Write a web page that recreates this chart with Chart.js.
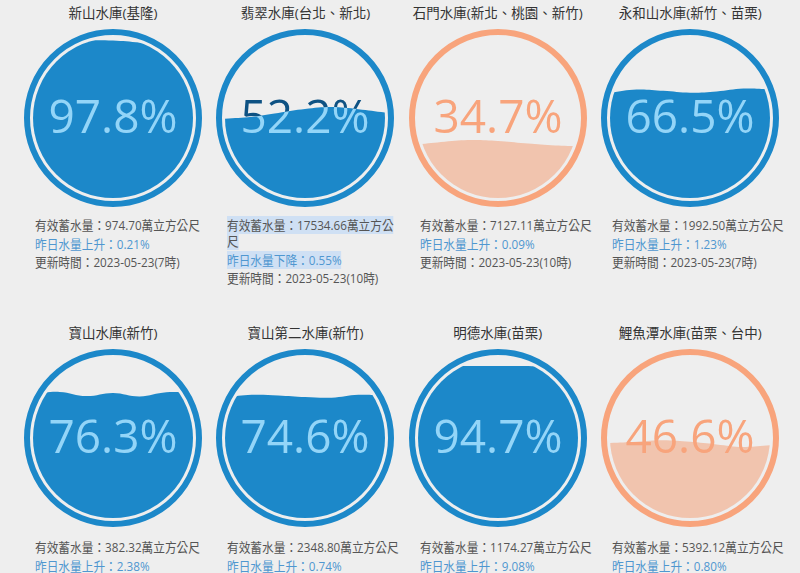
<!DOCTYPE html>
<html>
<head>
<meta charset="utf-8">
<script src="https://cdn.jsdelivr.net/npm/chart.js@4/dist/chart.umd.min.js"></script>
<style>
  html, body { margin: 0; padding: 0; }
  body {
    width: 800px; height: 573px; overflow: hidden; position: relative;
    background: #eeeeee;
    font-family: "Open Sans", "Noto Sans CJK TC", sans-serif;
  }
  .title {
    position: absolute; width: 192px; text-align: center;
    font-size: 13.5px; line-height: 18px; color: #333;
  }
  .gauge { position: absolute; width: 180px; height: 180px; }
  .info { position: absolute; font-size: 13px; color: #555; transform-origin: 0 0; }
  .info div { line-height: 16px; margin-bottom: 2.5px; }
  .info .chg { color: #4f97d0; }
  .sel { background: #cfe0f4; }
  .measure { position: absolute; left: -999px; top: 0; white-space: nowrap; font-size: 13px; }
</style>
</head>
<body>
<script>
const NAMES = ['新山水庫(基隆)', '翡翠水庫(台北、新北)', '石門水庫(新北、桃園、新竹)', '永和山水庫(新竹、苗栗)',
               '寶山水庫(新竹)', '寶山第二水庫(新竹)', '明德水庫(苗栗)', '鯉魚潭水庫(苗栗、台中)'];
const LEVELS = [97.8, 52.2, 34.7, 66.5, 76.3, 74.6, 94.7, 46.6];
const STORAGE = ['974.70', '17534.66', '7127.11', '1992.50', '382.32', '2348.80', '1174.27', '5392.12'];
const CHANGES = [0.21, -0.55, 0.09, 1.23, 2.38, 0.74, 9.08, 0.80];
const UPDATED = ['2023-05-23(7時)', '2023-05-23(10時)', '2023-05-23(10時)', '2023-05-23(7時)'];

// water surface height (%) read across each gauge, left to right
const WAVE_X = ['', '', '', '', '', '', ''];
const WAVE_XINSHAN  = [98.8, 98.8, 98.6, 98.4, 97.2, 96.2, 96.8];
const WAVE_FEITSUI  = [49.5, 50.8, 53.2, 55.6, 56.8, 55.5, 53.4];
const WAVE_SHIMEN   = [33.5, 35.2, 36.2, 35.6, 34.2, 33.0, 32.4];
const WAVE_YONGHE   = [65.8, 67.8, 67.0, 65.8, 66.6, 68.4, 68.0];
const WAVE_BAOSHAN  = [77.6, 78.8, 76.2, 78.2, 76.0, 78.6, 78.2];
const WAVE_BAOSHAN2 = [75.3, 77.0, 76.6, 75.6, 75.2, 77.0, 76.6];
const WAVE_MINGDE   = [95.2, 95.2, 95.0, 95.0, 95.0, 94.6, 94.4];
const WAVE_LIYUTAN  = [46.8, 47.6, 48.6, 47.6, 46.0, 44.4, 45.4];
const WAVES = [WAVE_XINSHAN, WAVE_FEITSUI, WAVE_SHIMEN, WAVE_YONGHE,
               WAVE_BAOSHAN, WAVE_BAOSHAN2, WAVE_MINGDE, WAVE_LIYUTAN];

const BLUE   = { ring: '#1c88c9', fill: '#1c88c9', inner: '#93d5f8', outer: '#0e5283' };
const ORANGE = { ring: '#f8a47c', fill: '#f1c4ae', inner: '#f8a47c', outer: '#f8a47c' };

const liquid = {
  id: 'liquid',
  beforeDatasetsDraw(chart) {
    const { ctx, chartArea: a } = chart;
    const cx = (a.left + a.right) / 2, cy = (a.top + a.bottom) / 2, r = (a.right - a.left) / 2;
    ctx.save();
    ctx.beginPath();
    ctx.arc(cx, cy, r, 0, Math.PI * 2);
    ctx.clip();
  },
  afterDatasetsDraw(chart, args, opts) {
    const { ctx, chartArea: a } = chart;
    const cx = (a.left + a.right) / 2, cy = (a.top + a.bottom) / 2, r = (a.right - a.left) / 2;
    ctx.restore();

    // percentage: light where it sits on the water, darker above it
    ctx.save();
    ctx.font = '46px "Open Sans"';
    ctx.textAlign = 'center';
    ctx.textBaseline = 'alphabetic';
    const txt = opts.level.toFixed(1) + '%';
    ctx.globalCompositeOperation = 'source-atop';
    ctx.fillStyle = opts.theme.inner;
    ctx.fillText(txt, cx, cy + 15);
    ctx.globalCompositeOperation = 'destination-over';
    ctx.fillStyle = opts.theme.outer;
    ctx.fillText(txt, cx, cy + 15);
    ctx.restore();

    ctx.save();
    ctx.beginPath();
    ctx.arc(cx, cy, r + 6, 0, Math.PI * 2);
    ctx.lineWidth = 6;
    ctx.strokeStyle = opts.theme.ring;
    ctx.stroke();
    ctx.restore();
  }
};

function el(tag, cls, css) {
  const e = document.createElement(tag);
  if (cls) e.className = cls;
  Object.assign(e.style, css || {});
  document.body.appendChild(e);
  return e;
}

const lines1 = STORAGE.map(s => `有效蓄水量：${s}萬立方公尺`);

// the info text in the reference is condensed: first line of the first card is ~165px wide
const m = el('span', 'measure');
function textWidth(s) { m.textContent = s; return m.getBoundingClientRect().width; }
const widths = lines1.map(textWidth);
const sx = 165 / widths[0];
const boxW = (widths[1] + Math.max(widths[0], widths[2], widths[3])) / 2;

NAMES.forEach((name, i) => {
  const col = i % 4, row = Math.floor(i / 4);
  const cx = 113 + col * 192.4;
  const top = row * 320;
  const theme = LEVELS[i] < 50 ? ORANGE : BLUE;

  const t = el('div', 'title', { left: (cx - 96) + 'px', top: (top + 4) + 'px' });
  t.textContent = name;

  const canvas = el('canvas', 'gauge', { left: (cx - 90) + 'px', top: (top + 28) + 'px' });
  canvas.width = 180; canvas.height = 180;

  const info = el('div', 'info', {
    left: (cx - 78) + 'px', top: (top + 217 + row * 2) + 'px',
    width: boxW + 'px', transform: `scaleX(${sx})`
  });
  const up = CHANGES[i] >= 0;
  const l1 = lines1[i];
  const l2 = `昨日水量${up ? '上升' : '下降'}：${Math.abs(CHANGES[i]).toFixed(2)}%`;
  const sel = i === 1;
  info.innerHTML =
    `<div>${sel ? `<span class="sel">${l1}</span>` : l1}</div>` +
    `<div class="chg">${sel ? `<span class="sel">${l2}</span>` : l2}</div>` +
    (UPDATED[i] ? `<div>更新時間：${UPDATED[i]}</div>` : '');

  new Chart(canvas.getContext('2d'), {
    type: 'line',
    data: {
      labels: WAVE_X,
      datasets: [{
        data: WAVES[i],
        fill: 'start',
        backgroundColor: theme.fill,
        borderWidth: 0,
        pointRadius: 0,
        tension: 0.4,
      }]
    },
    options: {
      responsive: false,
      animation: false,
      events: [],
      layout: { padding: 10 },
      plugins: {
        legend: { display: false },
        tooltip: { enabled: false },
        liquid: { level: LEVELS[i], theme: theme },
      },
      scales: {
        x: { display: false, offset: false },
        y: { display: false, min: 0, max: 100 }
      }
    },
    plugins: [liquid]
  });
});
</script>
</body>
</html>
